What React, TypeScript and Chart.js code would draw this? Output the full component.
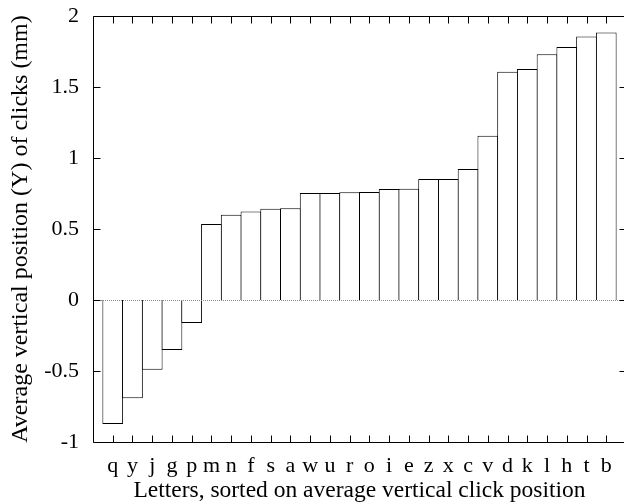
import React, { useEffect, useRef } from 'react';
import { Chart, registerables } from 'chart.js';

Chart.register(...registerables);

const letters = ['q', 'y', 'j', 'g', 'p', 'm', 'n', 'f', 's', 'a', 'w', 'u', 'r', 'o', 'i', 'e', 'z', 'x', 'c', 'v', 'd', 'k', 'l', 'h', 't', 'b'];
const avgY = [-0.873, -0.692, -0.491, -0.352, -0.162, 0.535, 0.601, 0.624, 0.643, 0.646, 0.754, 0.754, 0.758, 0.761, 0.782, 0.784, 0.852, 0.852, 0.923, 1.157, 1.608, 1.627, 1.73, 1.782, 1.855, 1.883];
const yTicks = [-1, -0.5, 0, 0.5, 1, 1.5, 2];
const xTitle = 'Letters, sorted on average vertical click position';
const yTitle = 'Average vertical position (Y) of clicks (mm)';

const FAMILY = '"Liberation Serif", "Times New Roman", serif';
const TICK_FONT = { family: FAMILY, size: 22, lineHeight: 1.2 };
const XTITLE_FONT = { family: FAMILY, size: 23.5, lineHeight: 1.1 };
const YTITLE_FONT = { family: FAMILY, size: 24, lineHeight: 1.2 };
const TICK_LEN = 7;

const framePlugin = {
  id: 'gnuFrame',
  afterDatasetsDraw(chart: any) {
    const { ctx, chartArea, scales } = chart;
    const { left, right, top, bottom } = chartArea;
    const xs = scales.x;
    const ys = scales.y;
    ctx.save();
    // zero axis (dotted grey)
    const y0 = Math.round(ys.getPixelForValue(0)) + 0.5;
    ctx.strokeStyle = '#8a8a8a';
    ctx.lineWidth = 1;
    ctx.setLineDash([1, 1]);
    ctx.beginPath();
    ctx.moveTo(left, y0);
    ctx.lineTo(right, y0);
    ctx.stroke();
    ctx.setLineDash([]);
    // frame
    ctx.strokeStyle = '#000';
    ctx.lineWidth = 1;
    const L = Math.round(left) + 0.5;
    const R = Math.round(right) + 0.5;
    const T = Math.round(top) + 0.5;
    const B = Math.round(bottom) + 0.5;
    ctx.beginPath();
    ctx.moveTo(L, T);
    ctx.lineTo(R, T);
    ctx.lineTo(R, B);
    ctx.lineTo(L, B);
    ctx.closePath();
    ctx.stroke();
    // y ticks on both sides, inward
    ctx.beginPath();
    yTicks.forEach((v) => {
      const py = Math.round(ys.getPixelForValue(v)) + 0.5;
      ctx.moveTo(L, py);
      ctx.lineTo(L + TICK_LEN, py);
      ctx.moveTo(R, py);
      ctx.lineTo(R - TICK_LEN, py);
    });
    // x ticks at bar centres, bottom and top, inward
    letters.forEach((_, i) => {
      const px = Math.round(xs.getPixelForValue(i)) + 0.5;
      ctx.moveTo(px, B);
      ctx.lineTo(px, B - TICK_LEN);
      ctx.moveTo(px, T);
      ctx.lineTo(px, T + TICK_LEN);
    });
    ctx.stroke();
    ctx.restore();
  },
};

export default function App() {
  const ref = useRef<HTMLCanvasElement | null>(null);

  useEffect(() => {
    document.body.style.margin = '0';
    document.body.style.overflow = 'hidden';
    const canvas = ref.current;
    if (!canvas) return;
    const chart = new Chart(canvas, {
      type: 'bar',
      data: {
        datasets: [
          {
            data: avgY.map((v, i) => ({ x: i, y: v })),
            backgroundColor: '#ffffff',
            borderColor: '#000000',
            borderWidth: 1,
            borderSkipped: 'start',
            barPercentage: 1.05,
            categoryPercentage: 1,
          },
        ],
      },
      options: {
        responsive: false,
        animation: false,
        devicePixelRatio: 1,
        layout: { padding: { top: 16, right: 6, left: 0, bottom: 0 } },
        plugins: {
          legend: { display: false },
          tooltip: { enabled: false },
        },
        scales: {
          x: {
            type: 'linear',
            min: -1,
            max: 26,
            offset: false,
            grid: { display: false, offset: false, drawTicks: false },
            border: { display: false },
            ticks: {
              stepSize: 1,
              autoSkip: false,
              maxRotation: 0,
              minRotation: 0,
              padding: 11.4,
              color: '#000',
              font: TICK_FONT,
              callback: (v: any) => {
                const n = Number(v);
                return Number.isInteger(n) && n >= 0 && n < letters.length ? letters[n] : '';
              },
            },
            title: {
              display: true,
              text: xTitle,
              color: '#000',
              font: XTITLE_FONT,
              padding: { top: 0, bottom: 0 },
            },
            afterFit: (s: any) => {
              s.height = 62;
              s.paddingLeft = 0;
              s.paddingRight = 0;
            },
          },
          y: {
            type: 'linear',
            min: -1,
            max: 2,
            grid: { display: false, drawTicks: false },
            border: { display: false },
            ticks: {
              stepSize: 0.5,
              padding: 14,
              color: '#000',
              font: TICK_FONT,
              callback: (v: any) => String(v),
            },
            afterBuildTicks: (s: any) => {
              s.ticks = yTicks.map((v) => ({ value: v }));
            },
            title: {
              display: true,
              text: yTitle,
              color: '#000',
              font: YTITLE_FONT,
              padding: { top: 6, bottom: 0 },
            },
            afterFit: (s: any) => {
              s.width = 93;
              s.paddingTop = 0;
              s.paddingBottom = 0;
            },
          },
        },
      },
      plugins: [framePlugin],
    });
    return () => chart.destroy();
  }, []);

  return (
    <div style={{ position: 'fixed', left: 0, top: 0, width: 624, height: 504, overflow: 'hidden', background: '#fff' }}>
      <canvas ref={ref} width={632} height={504} style={{ width: 632, height: 504, display: 'block' }} />
    </div>
  );
}
